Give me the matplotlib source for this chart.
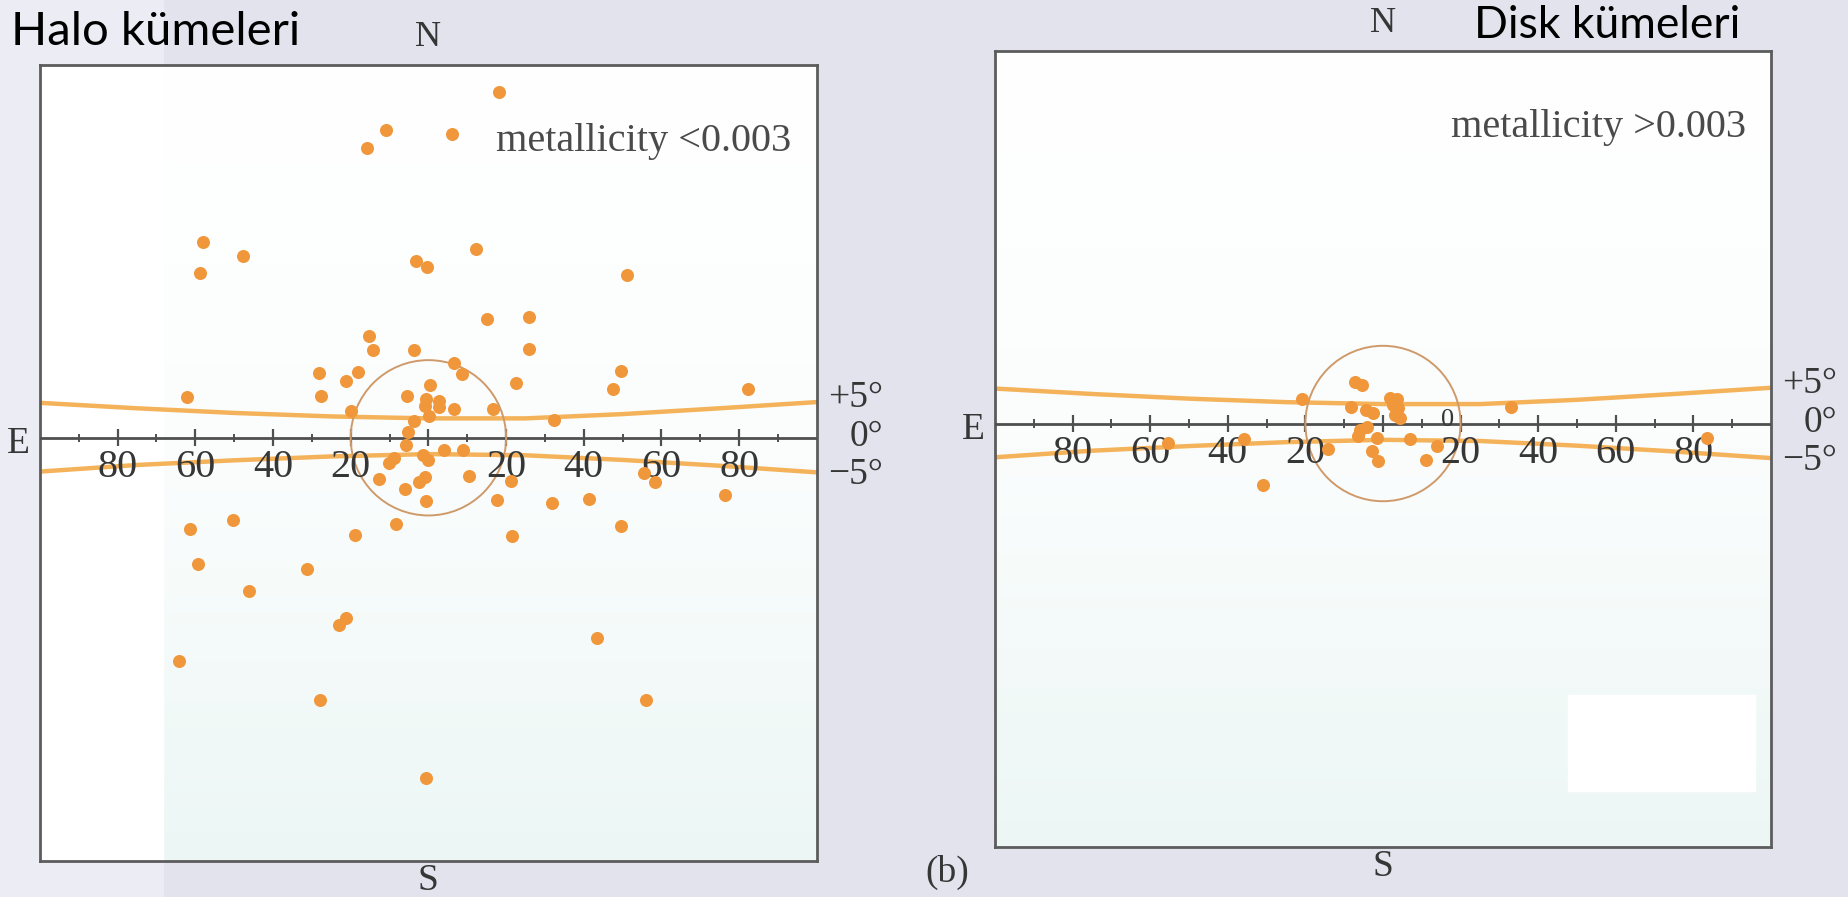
import numpy as np
import matplotlib
matplotlib.use("Agg")
import matplotlib.pyplot as plt
from matplotlib.patches import Circle, Rectangle
from matplotlib.colors import LinearSegmentedColormap

# globular clusters: galactic longitude l (deg, + to the west) and latitude b (deg)
halo_l = [18.1, -10.9, -15.8, 6.0, -58.1, -47.6, -58.7, -3.3, -0.3, 12.3,
          51.1, 15.1, 26.0, 26.0, -15.2, -14.3, -3.8, -28.2, -27.6, -21.2,
          -18.0, -62.1, -19.9, -5.6, 6.7, 8.7, 22.6, 49.6, 47.6, 82.2,
          16.6, 32.2, 0.4, -0.6, 2.8, -1.0, 2.8, 6.5, 0.1, -3.6,
          -5.3, -5.7, 3.9, 9.0, -1.5, -0.2, -8.8, -10.2, -12.8, 10.4,
          21.3, -2.3, -1.0, -5.9, -0.6, 17.6, -8.3, -19.0, 21.5, -61.3,
          -50.4, -59.4, -31.3, -46.1, -21.2, -22.9, -64.3, -27.8, -0.6, 31.8,
          41.4, 55.6, 58.2, 76.4, 49.6, 43.3, 55.9]
halo_b = [89.1, 79.3, 74.6, 78.2, 50.4, 46.9, 42.5, 45.6, 44.0, 48.7,
          41.8, 30.5, 31.2, 22.8, 26.3, 22.7, 22.6, 16.7, 10.7, 14.6,
          16.9, 10.4, 6.9, 10.8, 19.3, 16.4, 14.0, 17.2, 12.5, 12.6,
          7.3, 4.6, 13.5, 10.0, 9.6, 8.1, 7.9, 7.3, 5.5, 4.4,
          1.6, -1.9, -3.1, -3.1, -4.5, -5.8, -5.3, -6.5, -10.5, -9.8,
          -11.2, -11.3, -10.0, -13.3, -16.3, -15.9, -22.2, -25.1, -25.4, -23.5,
          -21.1, -32.4, -33.7, -39.4, -46.5, -48.1, -57.6, -67.5, -87.5, -16.7,
          -15.7, -9.0, -11.4, -14.8, -22.6, -51.6, -67.4]

disk_l = [-20.9, -7.2, -5.5, -8.3, -4.4, -2.5, 1.8, 3.5, 2.7, 3.9,
          3.1, 4.4, -5.9, -4.2, -6.4, -1.6, 6.9, 13.8, -14.1, -2.9,
          -1.2, 11.2, -30.8, 33.1, -35.9, -55.4, 83.5]
disk_b = [6.2, 10.8, 10.0, 4.3, 3.4, 2.6, 6.5, 6.2, 4.7, 3.9,
          2.2, 1.3, -1.6, -0.8, -3.2, -3.8, -3.9, -5.9, -6.5, -7.0,
          -9.7, -9.3, -15.8, 4.2, -3.9, -5.1, -3.7]

# the b = +5 / -5 degree boundary curves
curve_l = [-100, -75, -50, -25, 0, 25, 50, 75, 100]
curve_upper = [9.0, 7.6, 6.4, 5.5, 5.0, 5.0, 6.1, 7.6, 9.2]
curve_lower = [-8.7, -7.0, -5.8, -4.8, -4.2, -4.5, -5.7, -7.2, -8.9]

major_ticks = [-80, -60, -40, -20, 0, 20, 40, 60, 80]
minor_ticks = [-90, -70, -50, -30, -10, 10, 30, 50, 70, 90]
label_pos = [-80, -60, -40, -20, 20, 40, 60, 80]
label_text = ["80", "60", "40", "20", "20", "40", "60", "80"]
lat_text = ["+5°", "0°", "−5°"]
lat_pos = [10.3, 0.3, -9.6]
circle_radius = 20

serif = "Liberation Serif"
ink = "#363636"
dot_color = "#f0973b"
curve_color = "#f4b35a"

fig = plt.figure(figsize=(18.49, 8.97), dpi=100, facecolor="#e3e3ee")
fig.patches.append(Rectangle((0, 0), 0.088, 1, transform=fig.transFigure,
                             color="#ececf4", zorder=-1))

bg_cmap = LinearSegmentedColormap.from_list("bg", ["#ffffff", "#fbfdfd", "#ecf7f5"])


def draw_panel(ax, l, b, note):
    ax.set_xlim(-100, 100)
    ax.set_ylim(-109, 96)
    ax.imshow(np.linspace(0, 1, 256).reshape(-1, 1), cmap=bg_cmap, aspect="auto",
              extent=(-100, 100, -109, 96), zorder=0)
    ax.plot(curve_l, curve_upper, color=curve_color, lw=3.2, zorder=2)
    ax.plot(curve_l, curve_lower, color=curve_color, lw=3.2, zorder=2)
    ax.axhline(0, color="#4f4f4f", lw=2, zorder=3)
    ax.vlines(major_ticks, -2.2, 2.2, color="#4f4f4f", lw=1.6, zorder=3)
    ax.vlines(minor_ticks, -1.1, 1.1, color="#4f4f4f", lw=1.4, zorder=3)
    ax.add_patch(Circle((0, 0), circle_radius, fill=False, ec="#cf9a6a", lw=1.4, zorder=3))
    ax.scatter(l, b, s=88, color=dot_color, linewidths=0, zorder=5)
    for x, t in zip(label_pos, label_text):
        ax.text(x, -7.6, t, ha="center", va="center", family=serif, fontsize=29,
                color=ink, zorder=4)
    for y, t in zip(lat_pos, lat_text):
        ax.text(117, y, t, ha="right", va="center", family=serif, fontsize=27,
                color=ink, clip_on=False)
    ax.text(93.5, 73.8, note, ha="right", va="baseline", family=serif, fontsize=29,
            color="#4a4a4a")
    ax.text(0, 103, "N", ha="center", va="center", family=serif, fontsize=26,
            color=ink, clip_on=False)
    ax.text(0, -114, "S", ha="center", va="center", family=serif, fontsize=27,
            color=ink, clip_on=False)
    ax.text(-105.5, -1.5, "E", ha="center", va="center", family=serif, fontsize=27,
            color=ink, clip_on=False)
    ax.set_xticks([])
    ax.set_yticks([])
    for s in ax.spines.values():
        s.set_color("#5c5c5c")
        s.set_linewidth(2)


ax1 = fig.add_axes([0.0216, 0.0401, 0.4202, 0.8874])
draw_panel(ax1, halo_l, halo_b, "metallicity <0.003")
ax1.add_patch(Rectangle((0, 0), 0.158, 1, transform=ax1.transAxes, color="white", zorder=0.5))

ax2 = fig.add_axes([0.5381, 0.0557, 0.4197, 0.888])
draw_panel(ax2, disk_l, disk_b, "metallicity >0.003")
ax2.text(16.7, 0.8, "0", ha="center", va="center", family=serif, fontsize=19, color=ink, zorder=4)
ax2.add_patch(Rectangle((0.738, 0.07), 0.241, 0.121, transform=ax2.transAxes,
                        color="white", zorder=1))

fig.text(0.006, 1 - 45 / 897, "Halo kümeleri", family="Lato", fontsize=34,
         va="baseline", color="black")
fig.text(0.797, 1 - 38 / 897, "Disk kümeleri", family="Lato", fontsize=32,
         va="baseline", color="black")
fig.text(947 / 1849, 1 - 872 / 897, "(b)", family=serif, fontsize=27,
         ha="center", va="center", color=ink)

fig.savefig("out.png", dpi=100, facecolor=fig.get_facecolor())
